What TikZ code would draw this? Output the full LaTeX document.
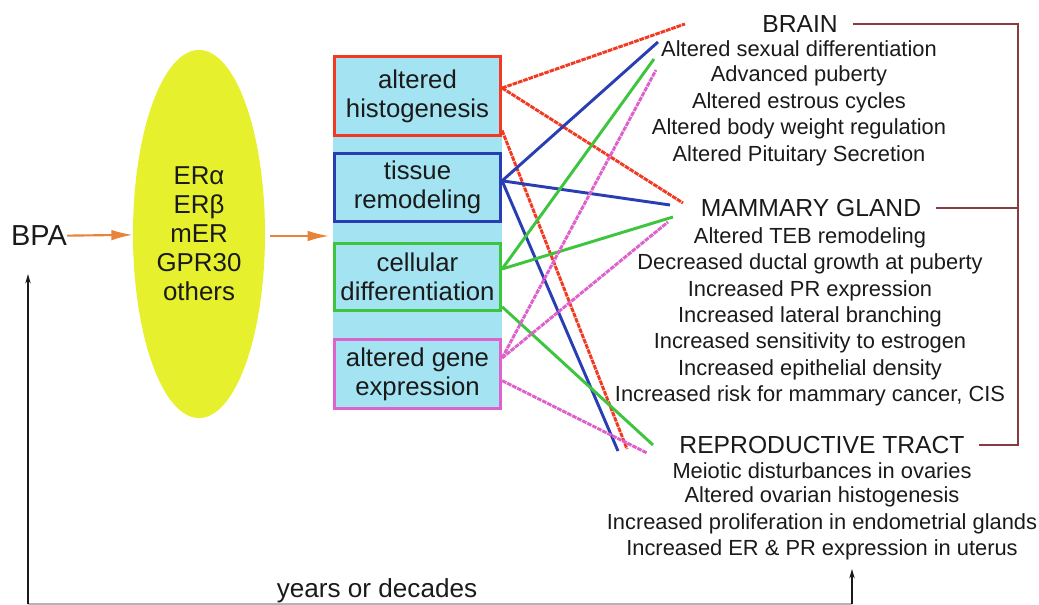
\documentclass[tikz,border=0pt]{standalone}
\usepackage{fontspec}
\setmainfont{Liberation Sans}
\usepackage{tikz}
\usetikzlibrary{arrows.meta,positioning,shapes.geometric}
\definecolor{Ink}{HTML}{1A1A1A}
\definecolor{Cyan}{HTML}{A3E3F2}
\definecolor{Lemon}{HTML}{E6F02C}
\definecolor{Amber}{HTML}{E8833A}
\definecolor{RedLn}{HTML}{F23A22}
\definecolor{BlueLn}{HTML}{2A3EB4}
\definecolor{GreenLn}{HTML}{3EC53E}
\definecolor{PinkLn}{HTML}{DE62CC}
\definecolor{Maroon}{HTML}{8A3B42}
\definecolor{Rule}{HTML}{B4B4B4}
\tikzset{
  catbox/.style={draw,line width=2.4pt,fill=Cyan,minimum width=124.5pt,inner sep=0pt,align=center,text=Ink,font=\fontsize{19.3}{21.75}\selectfont},
  boxred/.style={catbox,draw=RedLn},
  boxblue/.style={catbox,draw=BlueLn},
  boxgreen/.style={catbox,draw=GreenLn},
  boxpink/.style={catbox,draw=PinkLn},
  organ/.style={text=Ink,inner sep=0pt,font=\fontsize{18.5}{22}\selectfont},
  effect/.style={text=Ink,inner sep=0pt,font=\fontsize{16.4}{19.9}\selectfont},
  link/.style={line width=2.2pt},
  linkred/.style={link,draw=RedLn,dash pattern=on 3.5pt off 0.7pt},
  linkblue/.style={link,draw=BlueLn},
  linkgreen/.style={link,draw=GreenLn},
  linkpink/.style={link,draw=PinkLn,dash pattern=on 3.5pt off 0.7pt},
  feed/.style={-{Latex[length=16pt,width=8pt]},line width=1.6pt,draw=Amber},
  bracket/.style={line width=2.2pt,draw=Maroon},
  loopline/.style={-{Stealth[length=7pt,width=4pt]},line width=1.4pt,draw=Ink}
}

\begin{document}
\begin{tikzpicture}[x=0.75pt,y=-0.75pt]
\useasboundingbox (0,0) rectangle (1039,605);
% receptor side
\node[text=Ink,inner sep=0pt,font=\fontsize{21.7}{24}\selectfont] (bpa) at (39,236) {BPA};
\node[ellipse,fill=Lemon,inner sep=0pt,minimum width=99pt,minimum height=276pt,align=center,text=Ink,font=\fontsize{19.4}{21.75}\selectfont] (er) at (199,234) {ERα\\ERβ\\mER\\GPR30\\others};
\fill[Cyan] (333,55) rectangle (502,410);
\node[boxred,minimum height=59.25pt] (hist) at (417.5,96) {altered\\histogenesis};
\node[boxblue,minimum height=51pt] (tiss) at (417.5,187.5) {tissue\\remodeling};
\node[boxgreen,minimum height=50.25pt] (cell) at (417.5,277) {cellular\\differentiation};
\node[boxpink,minimum height=51.75pt] (gene) at (417.5,374) {altered gene\\expression};
\coordinate (tipA) at (270,236);
\coordinate (tipB) at (329,236);
\draw[feed] (bpa) -- (er);
\draw[feed] (tipA) -- (tipB);

% organs and effects
\node[organ] (brain) at (800,24) {BRAIN};
\foreach \t [count=\i from 0] in {Altered sexual differentiation,Advanced puberty,Altered estrous cycles,Altered body weight regulation,Altered Pituitary Secretion}
  \node[effect] (b\i) at (799,49+26.75*\i) {\t};
\node[organ] (mammary) at (811,208) {MAMMARY GLAND};
\foreach \t [count=\i from 0] in {Altered TEB remodeling,Decreased ductal growth at puberty,Increased PR expression,Increased lateral branching,Increased sensitivity to estrogen,Increased epithelial density,{Increased risk for mammary cancer, CIS}}
  \node[effect] (m\i) at (810,238+26.3*\i) {\t};
\node[organ] (repro) at (822,445) {REPRODUCTIVE TRACT};
\foreach \t [count=\i from 0] in {Meiotic disturbances in ovaries,Altered ovarian histogenesis,Increased proliferation in endometrial glands,Increased ER \& PR expression in uterus}
  \node[effect] (r\i) at (822,471+26.3*\i) {\t};

% line ends near the organ headings
\coordinate (hR1) at (685,24);  \coordinate (hR2) at (683,203); \coordinate (hR3) at (627,449);
\coordinate (hB1) at (658,42);  \coordinate (hB2) at (670,205); \coordinate (hB3) at (618,451);
\coordinate (hG1) at (654,59);  \coordinate (hG2) at (673,217); \coordinate (hG3) at (653,445);
\coordinate (hP1) at (656,70);  \coordinate (hP2) at (668,222); \coordinate (hP3) at (647,453);
\draw[linkred] ([yshift=6pt]hist.east) -- (hR1);
\draw[linkred] ([yshift=6pt]hist.east) -- (hR2);
\draw[linkred] ([yshift=5pt]hist.south east) -- (hR3);
\draw[linkblue] ([yshift=5pt]tiss.east) -- (hB1);
\draw[linkblue] ([yshift=5pt]tiss.east) -- (hB2);
\draw[linkblue] ([yshift=5pt]tiss.east) -- (hB3);
\draw[linkgreen] ([yshift=6pt]cell.east) -- (hG1);
\draw[linkgreen] ([yshift=6pt]cell.east) -- (hG2);
\draw[linkgreen] ([yshift=4pt]cell.south east) -- (hG3);
\draw[linkpink] ([yshift=12pt]gene.east) -- (hP1);
\draw[linkpink] ([yshift=12pt]gene.east) -- (hP2);
\draw[linkpink] ([yshift=-5pt]gene.east) -- (hP3);

% bracket on the right
\coordinate (spine) at (1018,24);
\draw[bracket] ([xshift=11pt]brain.east) -- (spine) |- ([xshift=11pt]repro.east);
\draw[bracket] ([xshift=11pt]mammary.east) -| (spine);

% feedback over time
\coordinate (loopL) at (28,604);
\coordinate (loopR) at (852,604);
\coordinate (upL) at (28,274);
\coordinate (upR) at (852,569);
\draw[Rule,line width=0.8pt] (loopL) -- (loopR);
\draw[loopline] (loopL) -- (upL);
\draw[loopline] (loopR) -- (upR);
\node[text=Ink,inner sep=0pt,font=\fontsize{19.6}{22}\selectfont] (years) at (377,591) {years or decades};
\end{tikzpicture}
\end{document}
